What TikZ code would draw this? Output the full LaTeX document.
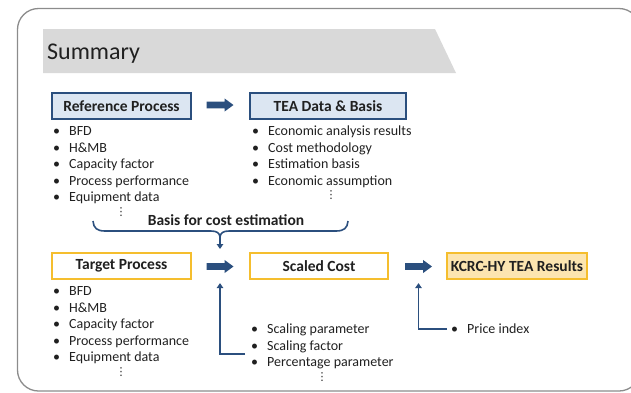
\documentclass[tikz,border=0pt]{standalone}
\usepackage{fontspec}
\setmainfont{Carlito}
\newfontfamily\symfont{DejaVu Sans}
\usetikzlibrary{arrows.meta}

\definecolor{navy}{HTML}{2B4F7E}
\definecolor{boxblue}{HTML}{DCE6F2}
\definecolor{gold}{HTML}{F5BE2E}
\definecolor{goldfill}{HTML}{FCE5B0}
\definecolor{bannergray}{HTML}{D9D9D9}
\definecolor{framegray}{HTML}{8C8C8C}
\definecolor{ink}{HTML}{202020}

\tikzset{
  boxlabel/.style={minimum height=26pt, inner sep=0pt, line width=1.6pt,
    font=\fontsize{15.5}{17}\selectfont\bfseries, text=ink},
  bluebox/.style={boxlabel, draw=navy, fill=boxblue},
  goldbox/.style={boxlabel, draw=gold, fill=white},
  resultbox/.style={boxlabel, draw=gold, fill=goldfill},
  item/.style={anchor=base west, inner sep=0pt, text=ink,
    font=\fontsize{14}{16}\selectfont},
  more/.style={inner sep=0pt, text=ink, font=\fontsize{11}{11}\selectfont\symfont},
  link/.style={draw=navy, line width=1.8pt, -{Triangle[length=5pt,width=6.5pt]}},
  blockarrow/.pic={
    \fill[navy] (-13.5,-3.3) -- (4.5,-3.3) -- (4.5,-6.6) -- (13.5,0)
      -- (4.5,6.6) -- (4.5,3.3) -- (-13.5,3.3) -- cycle;
    \coordinate (-foot) at (0,6.6);
  }
}

\newcommand{\bul}[1]{\makebox[16pt][l]{•}#1}

\begin{document}
\begin{tikzpicture}[x=1pt,y=-1pt]
  \useasboundingbox (0,0) rectangle (631,392);

  % slide frame
  \draw[framegray, line width=1.3pt, rounded corners=21pt]
    (17.5,8.5) rectangle (640,391);

  % title banner
  \fill[bannergray] (43,29) -- (435,29) -- (456,73) -- (43,73) -- cycle;
  \node[anchor=base west, inner sep=0pt, text=ink,
        font=\fontsize{24}{26}\selectfont] (title) at (47,59.5) {Summary};

  % upper row
  \node[bluebox, minimum width=139pt] (ref) at (121.5,106) {Reference Process};
  \node[bluebox, minimum width=156pt] (tea) at (328,106) {TEA Data \& Basis};
  \pic (a1) at (220,105) {blockarrow};

  \foreach \t [count=\i] in {BFD, H\&MB, Capacity factor, Process performance, Equipment data}
    \node[item] (ref\i) at (53,{135.5+16.5*(\i-1)}) {\bul{\t}};
  \node[more] (refmore) at (121,212) {⋮};

  \foreach \t [count=\i] in {Economic analysis results, Cost methodology, Estimation basis, Economic assumption}
    \node[item] (tea\i) at (252,{135.5+16.5*(\i-1)}) {\bul{\t}};
  \node[more] (teamore) at (331,195.5) {⋮};

  % brace gathering the basis for cost estimation
  \node[inner sep=0pt, text=ink, font=\fontsize{15.5}{17}\selectfont\bfseries]
    (basis) at (226,220) {Basis for cost estimation};
  \coordinate (bl) at (93,221);
  \coordinate (br) at (348,221);
  \coordinate (btip) at (220,237);
  \coordinate (bend) at (220,249);
  \draw[navy, line width=1.6pt, line join=round]
    (bl) .. controls (93.5,228) and (97,231) .. (105,231) -- (211,231)
    .. controls (217,231) and (219.5,233) .. (btip)
    .. controls (220.5,233) and (223,231) .. (229,231) -- (336,231)
    .. controls (344,231) and (347.5,228) .. (br);
  \draw[link] (btip) -- (bend);

  % lower row
  \node[goldbox, minimum width=139pt] (tgt) at (121.5,266) {Target Process};
  \node[goldbox, minimum width=138pt] (scaled) at (319,266) {Scaled Cost};
  \node[resultbox, minimum width=140pt] (kcrc) at (517,266) {KCRC-HY TEA Results};
  \pic (a2) at (220,266.5) {blockarrow};
  \pic (a3) at (418.5,266.5) {blockarrow};

  \foreach \t [count=\i] in {BFD, H\&MB, Capacity factor, Process performance, Equipment data}
    \node[item] (tgt\i) at (53,{295.5+16.5*(\i-1)}) {\bul{\t}};
  \node[more] (tgtmore) at (121,372) {⋮};

  \foreach \t [count=\i] in {Scaling parameter, Scaling factor, Percentage parameter}
    \node[item] (sc\i) at (251,{333.5+16.5*(\i-1)}) {\bul{\t}};
  \node[more] (scmore) at (322,377) {⋮};

  \node[item] (price) at (451,333.5) {\bul{Price index}};

  % feed-in arrows
  \coordinate (scin) at (245,354);
  \coordinate (prin) at (447,329);
  \draw[link] (scin) -| ([yshift=-10pt]a2-foot);
  \draw[link] (prin) -| ([yshift=-10pt]a3-foot);
\end{tikzpicture}
\end{document}
